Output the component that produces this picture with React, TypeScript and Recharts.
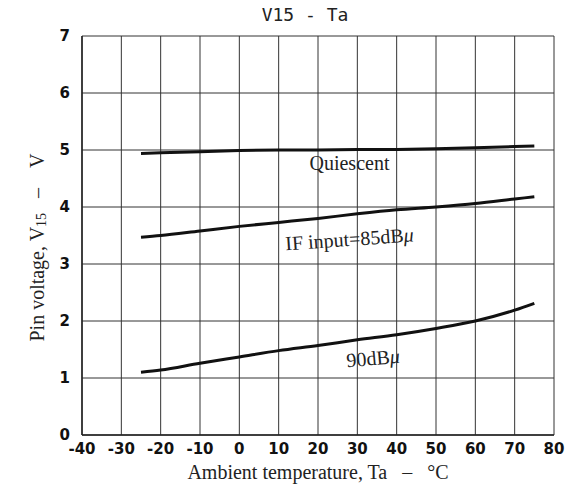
import { LineChart, Line, XAxis, YAxis, CartesianGrid, ReferenceDot } from "recharts";

// temperatures (°C) where the curves were read
const temps = [-25, -20, -10, 0, 10, 20, 30, 40, 50, 60, 70, 75];
const quiescent = [4.94, 4.95, 4.97, 4.99, 5.0, 5.0, 5.01, 5.01, 5.02, 5.04, 5.06, 5.07];
const if85 = [3.47, 3.5, 3.58, 3.66, 3.73, 3.8, 3.88, 3.95, 4.0, 4.06, 4.14, 4.18];
const if90 = [1.1, 1.14, 1.26, 1.37, 1.48, 1.57, 1.67, 1.76, 1.87, 2.0, 2.19, 2.31];

const xTicks = [-40, -30, -20, -10, 0, 10, 20, 30, 40, 50, 60, 70, 80];
const yTicks = [0, 1, 2, 3, 4, 5, 6, 7];

const data = temps.map((t, i) => ({
  t,
  quiescent: quiescent[i],
  if85: if85[i],
  if90: if90[i],
}));

const serif = "'Liberation Serif', 'Times New Roman', serif";
const tickFont = "'DejaVu Sans', sans-serif";
const nb = "\u00a0";

// curve annotation; an ending "μ" is set in italics like the datasheet
const curveLabel = (text: string, angle: number) => (props: any) => {
  const { viewBox } = props;
  const cx = viewBox.x + (viewBox.width || 0) / 2;
  const cy = viewBox.y + (viewBox.height || 0) / 2;
  const mu = text.endsWith("μ");
  return (
    <text
      x={cx}
      y={cy}
      textAnchor="middle"
      dominantBaseline="central"
      fontFamily={serif}
      fontSize={20}
      fill="#222"
      transform={`rotate(${angle} ${cx} ${cy})`}
    >
      {mu ? text.slice(0, -1) : text}
      {mu && <tspan fontStyle="italic">μ</tspan>}
    </text>
  );
};

const YLabel = (props: any) => {
  const { viewBox } = props;
  const cx = 37;
  const cy = viewBox.y + viewBox.height / 2 + 12;
  return (
    <text
      x={cx}
      y={cy}
      textAnchor="middle"
      dominantBaseline="central"
      fontFamily={serif}
      fontSize={20}
      fill="#222"
      transform={`rotate(-90 ${cx} ${cy})`}
    >
      Pin voltage, V<tspan fontSize={14} dy={4}>15</tspan>
      <tspan dy={-4}>{`${nb}${nb}${nb}–${nb}${nb}${nb}${nb}V`}</tspan>
    </text>
  );
};

export default function App() {
  return (
    <div style={{ position: "absolute", left: 0, top: 0, width: 584, height: 486, background: "#fff" }}>
      <div
        style={{
          position: "absolute",
          left: 240,
          top: 4,
          width: 130,
          textAlign: "center",
          fontFamily: "'DejaVu Sans Mono', monospace",
          fontSize: 18,
          color: "#222",
        }}
      >
        V15 - Ta
      </div>
      <LineChart width={584} height={486} data={data} margin={{ top: 36, right: 30, left: 42, bottom: 21 }}>
        <CartesianGrid stroke="#333" strokeWidth={1} horizontalValues={yTicks} verticalValues={xTicks} />
        <XAxis
          dataKey="t"
          type="number"
          domain={[-40, 80]}
          ticks={xTicks}
          interval={0}
          tickLine={false}
          axisLine={{ stroke: "#222", strokeWidth: 1.5 }}
          height={30}
          tick={{ fill: "#111", fontSize: 15, fontFamily: tickFont, fontWeight: "bold" }}
          tickMargin={2}
          label={{
            value: `Ambient temperature, Ta${nb}${nb}${nb}–${nb}${nb}${nb}°C`,
            position: "insideBottom",
            offset: -14,
            fill: "#222",
            fontFamily: serif,
            fontSize: 20,
          }}
        />
        <YAxis
          type="number"
          domain={[0, 7]}
          ticks={yTicks}
          interval={0}
          tickLine={false}
          axisLine={{ stroke: "#222", strokeWidth: 1.5 }}
          width={40}
          tick={{ fill: "#111", fontSize: 15, fontFamily: tickFont, fontWeight: "bold" }}
          tickMargin={6}
          label={<YLabel />}
        />
        <Line dataKey="quiescent" type="linear" stroke="#111" strokeWidth={3} dot={false} isAnimationActive={false} />
        <Line dataKey="if85" type="monotone" stroke="#111" strokeWidth={3} dot={false} isAnimationActive={false} />
        <Line dataKey="if90" type="monotone" stroke="#111" strokeWidth={3} dot={false} isAnimationActive={false} />
        <ReferenceDot x={28} y={4.77} r={0} label={curveLabel("Quiescent", 0)} />
        <ReferenceDot x={28} y={3.44} r={0} label={curveLabel("IF input=85dBμ", -4)} />
        <ReferenceDot x={34} y={1.35} r={0} label={curveLabel("90dBμ", -5)} />
      </LineChart>
    </div>
  );
}
